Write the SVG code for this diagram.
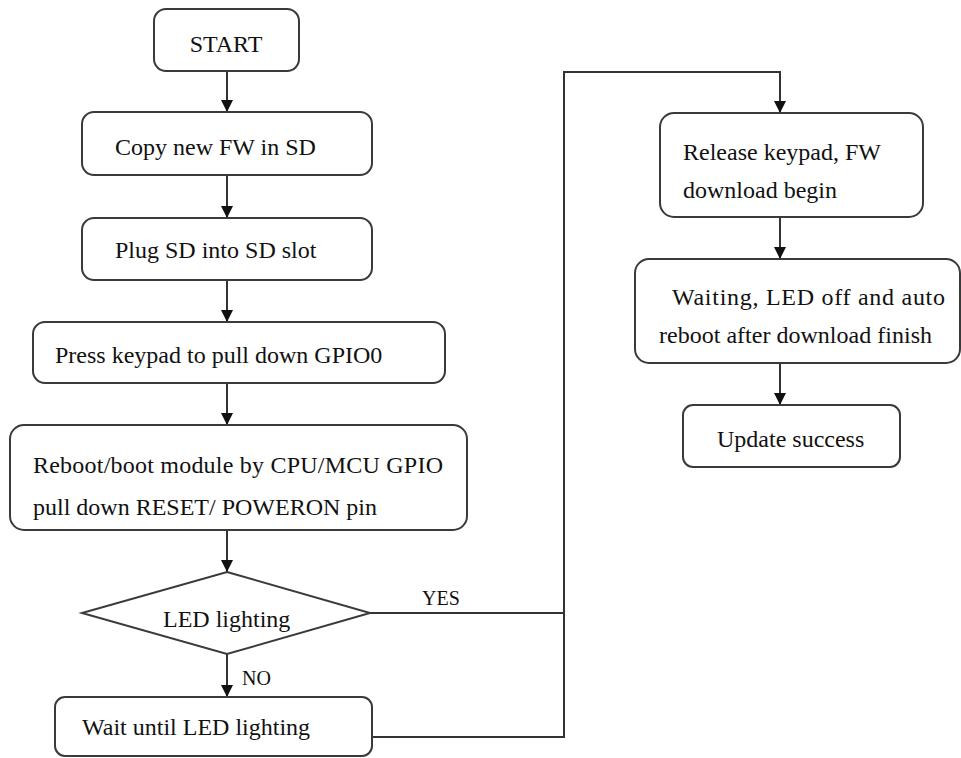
<svg xmlns="http://www.w3.org/2000/svg" width="961" height="758" viewBox="0 0 961 758">
<style>
.box{fill:#fff;stroke:#3a3a3a;stroke-width:2}
.t{font-family:"Liberation Serif","Times New Roman",serif;font-size:24px;fill:#111}
.s{font-size:20px}
.c{fill:none;stroke:#333;stroke-width:2}
</style>
<defs>
<marker id="ah" markerWidth="12" markerHeight="12" viewBox="0 0 12 12" refX="12" refY="6" orient="auto" markerUnits="userSpaceOnUse">
<path d="M0,0 L12,6 L0,12 Z" fill="#111"/>
</marker>
</defs>
<rect width="961" height="758" fill="#fff"/>
<g id="connectors">
<line class="c" x1="227" y1="71" x2="227" y2="112" marker-end="url(#ah)"/>
<line class="c" x1="227" y1="175" x2="227" y2="218" marker-end="url(#ah)"/>
<line class="c" x1="227" y1="280" x2="227" y2="322" marker-end="url(#ah)"/>
<line class="c" x1="227" y1="383" x2="227" y2="425" marker-end="url(#ah)"/>
<line class="c" x1="227" y1="530" x2="227" y2="572" marker-end="url(#ah)"/>
<line class="c" x1="227" y1="654" x2="227" y2="697" marker-end="url(#ah)"/>
<polyline class="c" points="370,613 564,613"/>
<polyline class="c" points="372,737 564,737 564,72 780,72 780,113" marker-end="url(#ah)"/>
<line class="c" x1="780" y1="217" x2="780" y2="259" marker-end="url(#ah)"/>
<line class="c" x1="780" y1="363" x2="780" y2="405" marker-end="url(#ah)"/>
<text class="t s" x="422" y="605">YES</text>
<text class="t s" x="242" y="685">NO</text>
</g>
<g id="start">
<rect class="box" x="154" y="9" width="145" height="62" rx="12"/>
<text class="t" x="226" y="52" text-anchor="middle">START</text>
</g>
<g id="copy">
<rect class="box" x="82" y="112" width="290" height="63" rx="12"/>
<text class="t" x="115" y="155">Copy new FW in SD</text>
</g>
<g id="plug">
<rect class="box" x="82" y="218" width="290" height="62" rx="12"/>
<text class="t" x="115" y="258">Plug SD into SD slot</text>
</g>
<g id="press">
<rect class="box" x="33" y="322" width="412" height="61" rx="12"/>
<text class="t" x="55" y="363">Press keypad to pull down GPIO0</text>
</g>
<g id="reboot">
<rect class="box" x="10" y="425" width="457" height="105" rx="14"/>
<text class="t" x="33" y="473" textLength="410" lengthAdjust="spacing">Reboot/boot module by CPU/MCU GPIO</text>
<text class="t" x="33" y="515">pull down RESET/ POWERON pin</text>
</g>
<g id="decision">
<polygon class="box" points="227,572 370,613 227,654 82,613"/>
<text class="t" x="163" y="627">LED lighting</text>
</g>
<g id="wait">
<rect class="box" x="55" y="697" width="317" height="59" rx="10"/>
<text class="t" x="82" y="735">Wait until LED lighting</text>
</g>
<g id="release">
<rect class="box" x="660" y="113" width="263" height="104" rx="14"/>
<text class="t" x="683" y="160">Release keypad, FW</text>
<text class="t" x="683" y="198">download begin</text>
</g>
<g id="waiting">
<rect class="box" x="635" y="259" width="325" height="104" rx="14"/>
<text class="t" x="672" y="305" textLength="273" lengthAdjust="spacing">Waiting, LED off and auto</text>
<text class="t" x="659" y="343" textLength="273" lengthAdjust="spacing">reboot after download finish</text>
</g>
<g id="success">
<rect class="box" x="683" y="405" width="217" height="62" rx="10"/>
<text class="t" x="717" y="447">Update success</text>
</g>
</svg>
